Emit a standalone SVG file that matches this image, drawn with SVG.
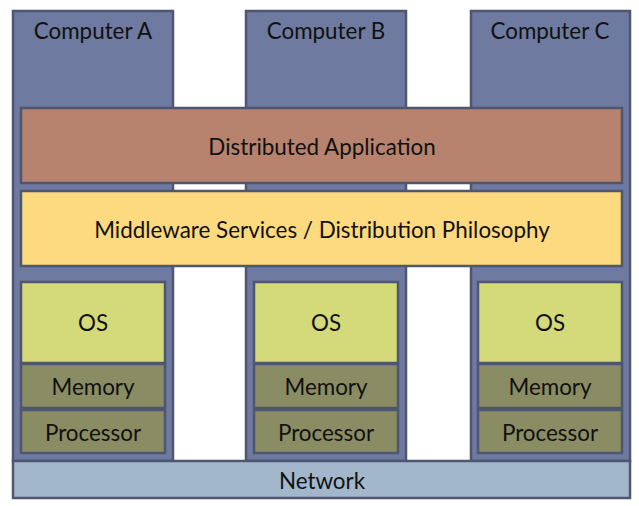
<svg xmlns="http://www.w3.org/2000/svg" width="639" height="506" viewBox="0 0 639 506">
<style>
text{font-family:Lato,"Open Sans",sans-serif;font-size:22.4px;fill:#111;text-anchor:middle}
.comp{fill:#6f7aa0;stroke:#4f5670;stroke-width:2.5}
.app{fill:#b7836f;stroke:#4f5670;stroke-width:2.5}
.mw{fill:#fdd97f;stroke:#4f5670;stroke-width:2.5}
.os{fill:#d4d97a;stroke:#4f5670;stroke-width:2.5}
.hw{fill:#8a8c63;stroke:#4f5670;stroke-width:2.5}
.net{fill:#a2b7cc;stroke:#4f5670;stroke-width:2.5}
</style>
<rect width="639" height="506" fill="#fff"/>
<g id="computerA"><rect class="comp" x="13" y="11" width="160" height="450"/><text x="93" y="39">Computer A</text></g>
<g id="computerB"><rect class="comp" x="246" y="11" width="160" height="450"/><text x="326" y="39">Computer B</text></g>
<g id="computerC"><rect class="comp" x="471" y="11" width="159" height="450"/><text x="550" y="39">Computer C</text></g>
<g id="network"><rect class="net" x="13" y="461" width="617" height="37"/><text x="322" y="489">Network</text></g>
<g id="app"><rect class="app" x="21" y="108" width="601" height="75"/><text x="322" y="155">Distributed Application</text></g>
<g id="middleware"><rect class="mw" x="21" y="191" width="601" height="75"/><text x="322" y="238">Middleware Services / Distribution Philosophy</text></g>
<g id="osA"><rect class="os" x="21" y="282" width="144" height="81"/><text x="93" y="331">OS</text></g>
<g id="memA"><rect class="hw" x="21" y="364" width="144" height="44"/><text x="93" y="395">Memory</text></g>
<g id="procA"><rect class="hw" x="21" y="410" width="144" height="43"/><text x="93" y="441">Processor</text></g>
<g id="osB"><rect class="os" x="254" y="282" width="144" height="81"/><text x="326" y="331">OS</text></g>
<g id="memB"><rect class="hw" x="254" y="364" width="144" height="44"/><text x="326" y="395">Memory</text></g>
<g id="procB"><rect class="hw" x="254" y="410" width="144" height="43"/><text x="326" y="441">Processor</text></g>
<g id="osC"><rect class="os" x="478" y="282" width="144" height="81"/><text x="550" y="331">OS</text></g>
<g id="memC"><rect class="hw" x="478" y="364" width="144" height="44"/><text x="550" y="395">Memory</text></g>
<g id="procC"><rect class="hw" x="478" y="410" width="144" height="43"/><text x="550" y="441">Processor</text></g>
<g id="connectors"></g>
</svg>
